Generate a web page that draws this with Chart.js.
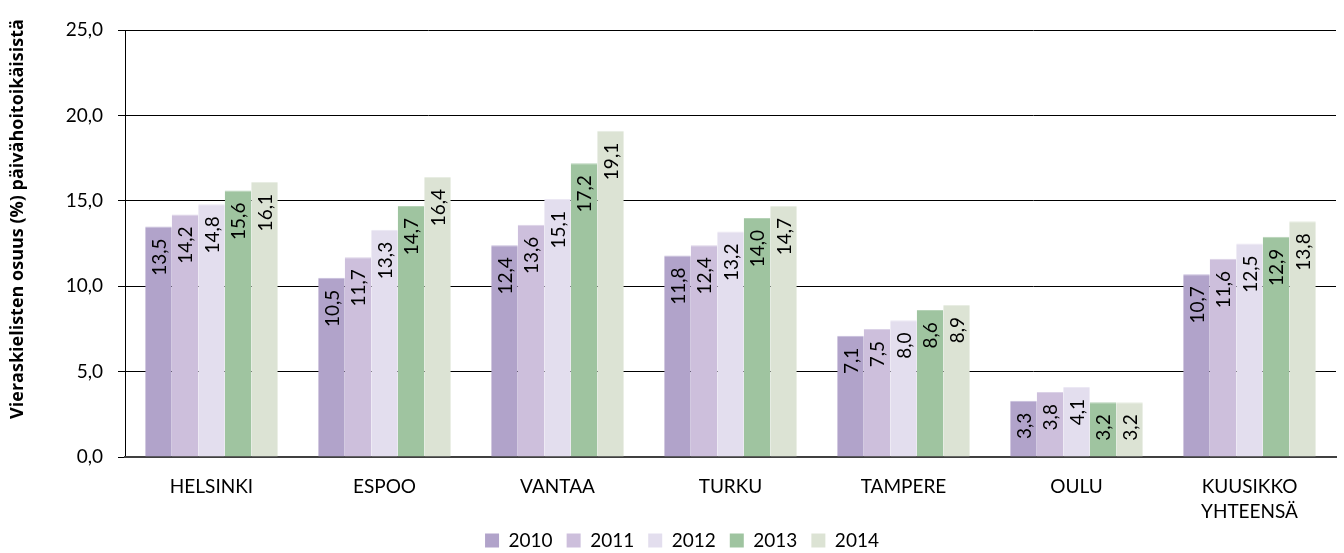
<!DOCTYPE html>
<html>
<head>
<meta charset="utf-8">
<script src="https://cdn.jsdelivr.net/npm/chart.js@4/dist/chart.umd.min.js"></script>
<style>
  html, body { margin: 0; padding: 0; background: #fff; }
  #wrap { width: 1344px; height: 553px; }
</style>
</head>
<body>
<div id="wrap"><canvas id="chart"></canvas></div>
<script>
// Data
const categories = ['HELSINKI', 'ESPOO', 'VANTAA', 'TURKU', 'TAMPERE', 'OULU', ['KUUSIKKO', 'YHTEENSÄ']];
const years = ['2010', '2011', '2012', '2013', '2014'];
const values2010 = [13.5, 10.5, 12.4, 11.8, 7.1, 3.3, 10.7];
const values2011 = [14.2, 11.7, 13.6, 12.4, 7.5, 3.8, 11.6];
const values2012 = [14.8, 13.3, 15.1, 13.2, 8.0, 4.1, 12.5];
const values2013 = [15.6, 14.7, 17.2, 14.0, 8.6, 3.2, 12.9];
const values2014 = [16.1, 16.4, 19.1, 14.7, 8.9, 3.2, 13.8];
const colors = ['#b1a3ca', '#cdbfdc', '#e3deee', '#9fc4a0', '#dce3d4'];
const edgeColors = ['#c6bcdb', '#dbd2e7', '#ece8f4', '#b5d2b6', '#e8ede3'];
const yTitle = 'Vieraskielisten osuus (%) päivähoitoikäisistä';

const seriesValues = [values2010, values2011, values2012, values2013, values2014];

const fmt = v => v.toFixed(1).replace('.', ',');
const FONT = 'Lato, "Open Sans", sans-serif';
const FS = 19;

// Arvot pystyssä pylvään yläpään sisäpuolelle
const barLabels = {
    id: 'barLabels',
    afterDatasetsDraw(chart) {
        const ctx = chart.ctx;
        ctx.save();
        ctx.font = FS + 'px ' + FONT;
        ctx.fillStyle = '#000';
        ctx.textAlign = 'right';
        ctx.textBaseline = 'middle';
        chart.data.datasets.forEach((ds, i) => {
            const meta = chart.getDatasetMeta(i);
            meta.data.forEach((bar, j) => {
                ctx.save();
                ctx.translate(bar.x + 1, bar.y + 12);
                ctx.rotate(-Math.PI / 2);
                ctx.fillText(fmt(ds.data[j]), 0, 0);
                ctx.restore();
            });
        });
        ctx.restore();
    }
};

// Y-akselin otsikko hieman ylempänä kuin Chart.js sen keskittäisi
const yTitlePlugin = {
    id: 'yTitlePlugin',
    afterDraw(chart) {
        const ctx = chart.ctx;
        ctx.save();
        ctx.font = 'bold 18px "Open Sans", sans-serif';
        ctx.fillStyle = '#000';
        ctx.textAlign = 'center';
        ctx.textBaseline = 'middle';
        ctx.translate(18, 219);
        ctx.rotate(-Math.PI / 2);
        ctx.fillText(yTitle, 0, 0);
        ctx.restore();
    }
};

// Selite lähemmäs x-akselin nimiä ja vähän oikealle
const legendShift = {
    id: 'legendShift',
    afterLayout(chart) {
        chart.legend.top -= 7;
        chart.legend.bottom -= 7;
        chart.legend.left += 14;
        chart.legend.right += 14;
    }
};

Chart.defaults.font.family = FONT;
Chart.defaults.color = '#000';

new Chart(document.getElementById('chart'), {
    type: 'bar',
    data: {
        labels: categories,
        datasets: years.map((y, i) => ({
            label: y,
            data: seriesValues[i],
            backgroundColor: colors[i],
            borderColor: edgeColors[i],
            borderWidth: { top: 1, left: 0, right: 0, bottom: 0 },
            borderSkipped: 'start',
            barPercentage: 1,
            categoryPercentage: 0.766
        }))
    },
    options: {
        responsive: true,
        maintainAspectRatio: false,
        animation: false,
        layout: { padding: { top: 30, right: 8, left: 0, bottom: -14 } },
        scales: {
            y: {
                min: 0,
                max: 25,
                afterFit: s => { s.width = 125; },
                ticks: {
                    stepSize: 5,
                    font: { size: FS },
                    padding: 15,
                    callback: v => fmt(v)
                },
                grid: {
                    color: '#000',
                    lineWidth: 1,
                    tickLength: 7
                },
                border: { color: '#000', width: 1 }
            },
            x: {
                afterFit: s => { s.height = 67; },
                ticks: {
                    font: { size: FS, lineHeight: 1.3 },
                    padding: 10,
                    maxRotation: 0
                },
                grid: { display: false },
                border: { color: '#404040', width: 2 }
            }
        },
        plugins: {
            legend: {
                position: 'bottom',
                labels: {
                    boxWidth: 14,
                    boxHeight: 14,
                    padding: 14,
                    font: { size: FS },
                    generateLabels: chart => years.map((y, i) => ({
                        text: y,
                        fillStyle: colors[i],
                        strokeStyle: colors[i],
                        lineWidth: 0,
                        datasetIndex: i,
                        hidden: false
                    }))
                }
            },
            tooltip: { enabled: false }
        }
    },
    plugins: [barLabels, yTitlePlugin, legendShift]
});
</script>
</body>
</html>
